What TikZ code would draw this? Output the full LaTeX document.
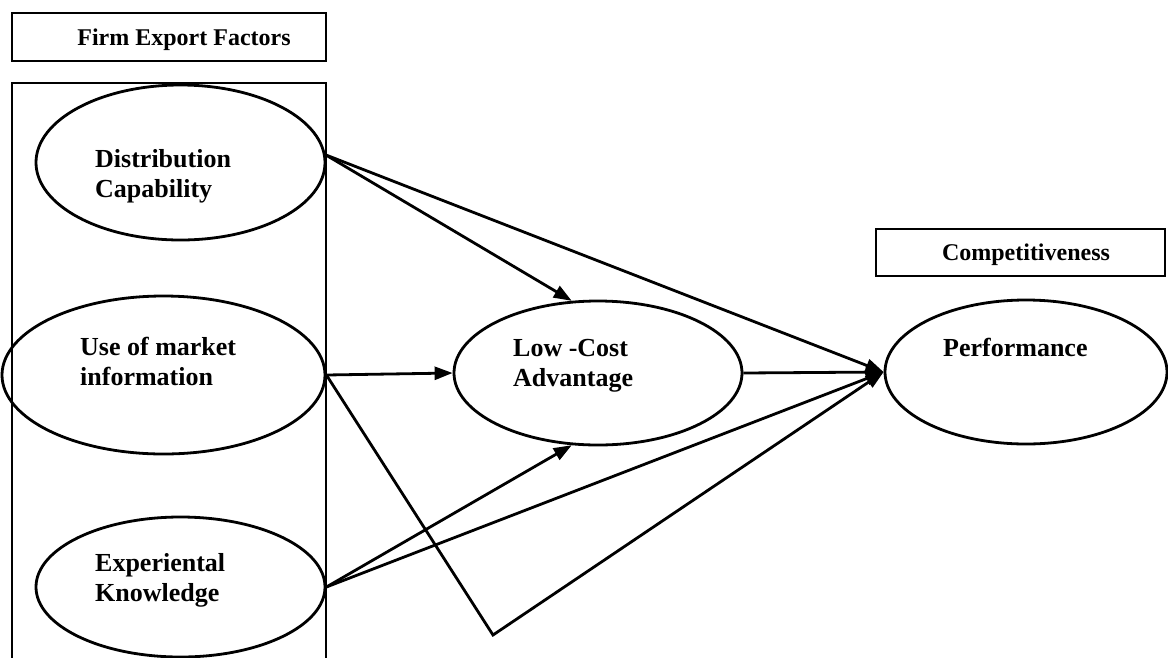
\documentclass[tikz,border=0pt]{standalone}
\usepackage{fontspec}
\setmainfont{Liberation Serif}
\usetikzlibrary{shapes.geometric,arrows.meta}
\begin{document}
\begin{tikzpicture}[x=1pt,y=-1pt,
  oval/.style={draw,ellipse,line width=2.8pt,inner sep=0pt},
  frame/.style={draw,line width=2.8pt},
  lbl/.style={anchor=west,font=\bfseries\fontsize{26}{30}\selectfont,align=left,inner sep=0pt},
  ttl/.style={font=\bfseries\fontsize{24}{28}\selectfont,inner sep=0pt},
  conn/.style={line width=2.8pt,-{Triangle[length=18pt,width=13pt]}}]
\useasboundingbox (0,0) rectangle (1168,657);
\fill[white] (0,0) rectangle (1168,657);
% boxes
\draw[frame] (12,13) rectangle (326,61);
\node[ttl] (t1) at (184,40) {Firm Export Factors};
\draw[frame] (12,660) -- (12,83) -- (326,83) -- (326,660);
\draw[frame] (876,229) rectangle (1165,276);
\node[ttl] (t2) at (1026,255) {Competitiveness};
% ellipses
\node[oval,minimum width=289pt,minimum height=155pt] (dc) at (180.5,162.5) {};
\node[oval,minimum width=323pt,minimum height=158pt] (umi) at (163.5,375) {};
\node[oval,minimum width=289pt,minimum height=140pt] (ek) at (180.5,587) {};
\node[oval,minimum width=288pt,minimum height=144pt] (lc) at (598,373) {};
\node[oval,minimum width=282pt,minimum height=144pt] (pf) at (1026,372) {};
% labels
\node[lbl] (l1) at (95,176) {Distribution\\Capability};
\node[lbl] (l2) at (80,361) {Use of market\\information};
\node[lbl] (l3) at (95,580) {Experiental\\Knowledge};
\node[lbl] (l4) at (513,366) {Low -Cost\\Advantage};
\node[lbl] (l5) at (943,347) {Performance};
% connectors
\coordinate (bend) at (493,635);
\draw[conn] (dc.3) -- (lc.110);
\draw[conn] (dc.3) -- (pf.west);
\draw[conn] (umi.east) -- (lc.west);
\draw[conn] (umi.east) -- (bend) -- (pf.west);
\draw[conn] (ek.east) -- (lc.250);
\draw[conn] (ek.east) -- (pf.west);
\draw[conn] (lc.east) -- (pf.west);
\end{tikzpicture}
\end{document}
